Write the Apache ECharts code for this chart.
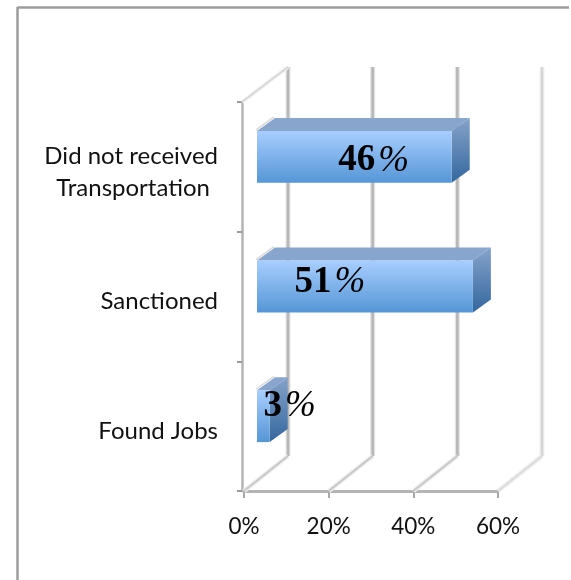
<!DOCTYPE html>
<html>
<head>
<meta charset="utf-8">
<style>html,body{margin:0;padding:0;background:#fff}#chart{width:571px;height:580px}</style>
<script src="https://cdn.jsdelivr.net/npm/echarts@6/dist/echarts.min.js"></script>
</head>
<body>
<div id="chart"></div>
<script>
// Bar order runs bottom to top along the category axis.
const categories = ['Found Jobs', 'Sanctioned', 'Did not received\nTransportation'];
const percentValues = [3, 51, 46];
const xTickValues = [0, 20, 40, 60];

// Where each value label sits, measured from the bar's right end and middle.
const labelShiftX = [20, -143, -78];
const labelShiftY = [-10, -4, 4];

const WALL_DX = 44, WALL_DY = -35;   // depth of the chart box
const BAR_DX = 18, BAR_DY = -13;     // depth of a bar
const BAR_INSET_X = 13, BAR_INSET_Y = -10; // bars stand mid-way into the box

const chart = echarts.init(document.getElementById('chart'));

function softLine(x1, y1, x2, y2, core, halo, width) {
  return [
    { type: 'line', shape: { x1, y1, x2, y2 }, style: { stroke: halo, lineWidth: width + 2.5, fill: null } },
    { type: 'line', shape: { x1, y1, x2, y2 }, style: { stroke: core, lineWidth: width, fill: null } }
  ];
}

// Back-wall gridlines and the floor diagonals leading to them.
function renderWall(params, api) {
  const box = params.coordSys;
  const x = api.coord([api.value(0), 0])[0];
  const last = params.dataIndex === xTickValues.length - 1;
  const floorY = box.y + box.height;
  const children = []
    .concat(softLine(x + WALL_DX, box.y + WALL_DY, x + WALL_DX, floorY + WALL_DY,
      last ? '#d6d6d6' : '#b6b6b6', last ? '#efefef' : '#e2e2e2', 2.5))
    .concat(softLine(x, floorY, x + WALL_DX, floorY + WALL_DY,
      last ? '#dcdcdc' : '#c8c8c8', '#eeeeee', 2));
  if (params.dataIndex === 0) {
    children.push.apply(children,
      softLine(x - 2, box.y, x + WALL_DX, box.y + WALL_DY, '#d2d2d2', '#f0f0f0', 1.5));
  }
  return { type: 'group', children };
}

// A 3D bar: front, top and side faces, plus its value label.
function renderBar(params, api) {
  const value = api.value(0);
  const index = api.value(1);
  const zero = api.coord([0, index]);
  const end = api.coord([value, index]);
  const thickness = api.size([0, 1])[1] * 0.4;
  const x0 = zero[0] + BAR_INSET_X;
  const x1 = end[0] + BAR_INSET_X;
  const y0 = zero[1] + BAR_INSET_Y - thickness / 2;
  const y1 = y0 + thickness;
  const vertical = (a, b) => ({
    type: 'linear', x: 0, y: 0, x2: 0, y2: 1,
    colorStops: [{ offset: 0, color: a }, { offset: 1, color: b }]
  });
  return {
    type: 'group',
    children: [
      { type: 'polygon',
        shape: { points: [[x0, y0], [x0 + BAR_DX, y0 + BAR_DY], [x1 + BAR_DX, y0 + BAR_DY], [x1, y0]] },
        style: { fill: '#87a5cd' } },
      { type: 'line',
        shape: { x1: x0 - 1, y1: y0 - 1, x2: x0 + BAR_DX - 1, y2: y0 + BAR_DY - 1 },
        style: { stroke: '#d8d8d8', lineWidth: 1.5, fill: null } },
      { type: 'polygon',
        shape: { points: [[x1, y0], [x1 + BAR_DX, y0 + BAR_DY], [x1 + BAR_DX, y1 + BAR_DY], [x1, y1]] },
        style: { fill: vertical('#86a3ca', '#34679e') } },
      { type: 'rect',
        shape: { x: x0, y: y0, width: x1 - x0, height: thickness },
        style: { fill: vertical('#a8ceff', '#5596d6') } },
      { type: 'text',
        z2: 10,
        style: {
          x: x1 + labelShiftX[params.dataIndex],
          y: (y0 + y1) / 2 + labelShiftY[params.dataIndex],
          align: 'center',
          verticalAlign: 'middle',
          text: '{n|' + value + '}{p|%}',
          rich: {
            n: { fontFamily: 'Liberation Serif', fontWeight: 'bold', fontSize: 37, fill: '#000' },
            p: { fontFamily: 'Liberation Serif', fontStyle: 'italic', fontSize: 37, fill: '#000', padding: [0, 0, 0, 3] }
          }
        } }
    ]
  };
}

chart.setOption({
  animation: false,
  backgroundColor: '#fff',
  grid: { left: 244, top: 102, width: 254, height: 389 },
  xAxis: {
    type: 'value', min: 0, max: 60, interval: 20,
    axisLine: { show: true, lineStyle: { color: '#b4b4b4', width: 3 } },
    axisTick: { show: true, length: 7, lineStyle: { color: '#a8a8a8', width: 2 } },
    axisLabel: {
      margin: 24, formatter: '{value}%',
      fontFamily: 'Lato', fontSize: 22.5, color: '#111'
    },
    splitLine: { show: false }
  },
  yAxis: {
    type: 'category', data: categories, offset: 2,
    axisLine: { show: true, onZero: false, lineStyle: { color: '#b4b4b4', width: 2.5 } },
    axisTick: { show: true, length: 5, lineStyle: { color: '#9a9a9a', width: 2 } },
    axisLabel: {
      margin: 24, fontFamily: 'Lato', fontSize: 24, color: '#111', lineHeight: 32,
      padding: [10, 0, 0, 0],
      formatter: function (name) {
        const lines = name.split('\n');
        return lines.length > 1 ? '{a|' + lines[0] + '}\n{t|' + lines[1] + '}' : name;
      },
      rich: {
        a: { fontFamily: 'Lato', fontSize: 24, color: '#111', lineHeight: 32 },
        t: { fontFamily: 'Lato', fontSize: 24, color: '#111', lineHeight: 32, padding: [0, 8, 0, 0] }
      }
    }
  },
  graphic: [
    // Chart frame: only the top and left edges are drawn.
    { type: 'line', silent: true, shape: { x1: 17.5, y1: 7.5, x2: 569, y2: 7.5 }, style: { stroke: '#9c9c9c', lineWidth: 2.5 } },
    { type: 'line', silent: true, shape: { x1: 17.5, y1: 7, x2: 17.5, y2: 580 }, style: { stroke: '#9c9c9c', lineWidth: 2.5 } }
  ],
  series: [
    {
      type: 'custom', renderItem: renderWall, z: 1, silent: true, clip: false,
      encode: { x: 0, y: 1 },
      data: xTickValues.map(v => [v, 0])
    },
    {
      type: 'custom', renderItem: renderBar, z: 5, silent: true, clip: false,
      encode: { x: 0, y: 1 },
      data: percentValues.map((v, i) => [v, i])
    }
  ]
});
</script>
</body>
</html>
